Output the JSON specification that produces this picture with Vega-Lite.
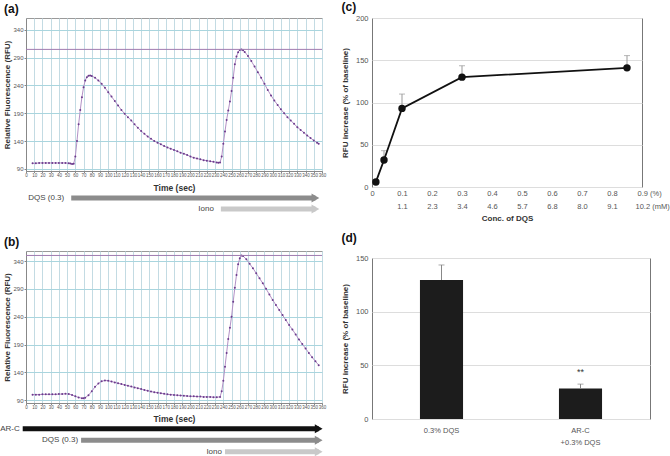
{
  "$schema": "https://vega.github.io/schema/vega-lite/v6.json",
  "padding": {"left": 0, "top": 0, "right": 0, "bottom": 0},
  "background": "white",
  "config": {
    "font": "Liberation Sans",
    "view": {"stroke": "#9a9a9a", "strokeWidth": 1},
    "axis": {"domainColor": "#888", "tickColor": "#888", "labelColor": "#555", "titleColor": "#333", "titleFontWeight": "bold", "labelOverlap": false, "labelSeparation": 0},
    "title": {"font": "Liberation Sans", "fontSize": 12, "fontWeight": "bold", "color": "#111", "anchor": "start", "frame": "bounds"}
  },
  "datasets": {
    "tsA": [
      {"t":8,"rfu":100},{"t":12,"rfu":100},{"t":16,"rfu":100.5},{"t":20,"rfu":100.5},{"t":24,"rfu":100.5},{"t":28,"rfu":100.5},{"t":32,"rfu":100.5},{"t":36,"rfu":100.5},{"t":40,"rfu":100.5},{"t":44,"rfu":100.5},{"t":48,"rfu":100.5},{"t":52,"rfu":100},{"t":54,"rfu":99.5},{"t":56,"rfu":98.5},{"t":58,"rfu":99},
      {"t":60,"rfu":112},{"t":62,"rfu":140},{"t":64,"rfu":170},{"t":66,"rfu":196},{"t":68,"rfu":219},{"t":70,"rfu":237},{"t":72,"rfu":249},{"t":74,"rfu":255},{"t":76,"rfu":257.5},{"t":78,"rfu":258},{"t":80,"rfu":257},
      {"t":84,"rfu":254},{"t":88,"rfu":249},{"t":92,"rfu":243},{"t":96,"rfu":236},{"t":100,"rfu":228},{"t":104,"rfu":220},{"t":108,"rfu":212},{"t":112,"rfu":204},{"t":116,"rfu":196},{"t":120,"rfu":189},{"t":124,"rfu":183},{"t":128,"rfu":177},{"t":132,"rfu":170},{"t":136,"rfu":164},{"t":140,"rfu":158},{"t":144,"rfu":153},{"t":148,"rfu":148},{"t":152,"rfu":144},{"t":156,"rfu":140},{"t":160,"rfu":137},{"t":164,"rfu":134},{"t":168,"rfu":131},{"t":172,"rfu":128.5},{"t":176,"rfu":126},{"t":180,"rfu":124},{"t":184,"rfu":121.5},{"t":188,"rfu":119},{"t":192,"rfu":117},{"t":196,"rfu":115},{"t":200,"rfu":112},{"t":204,"rfu":110},{"t":208,"rfu":108.5},{"t":212,"rfu":107},{"t":216,"rfu":105.5},{"t":220,"rfu":104.5},{"t":224,"rfu":103.5},{"t":228,"rfu":102.5},{"t":232,"rfu":101.5},{"t":234,"rfu":101},{"t":236,"rfu":101.5},
      {"t":238,"rfu":112},{"t":240,"rfu":135},{"t":242,"rfu":157},{"t":244,"rfu":178},{"t":246,"rfu":195},{"t":248,"rfu":211},{"t":250,"rfu":230},{"t":252,"rfu":254},{"t":254,"rfu":278},{"t":256,"rfu":292},{"t":258,"rfu":300},{"t":260,"rfu":304},{"t":262,"rfu":305},{"t":264,"rfu":303.5},{"t":266,"rfu":300.5},
      {"t":270,"rfu":293},{"t":274,"rfu":284},{"t":278,"rfu":274},{"t":282,"rfu":264},{"t":286,"rfu":254},{"t":290,"rfu":243},{"t":294,"rfu":232},{"t":298,"rfu":222},{"t":302,"rfu":213},{"t":306,"rfu":205},{"t":310,"rfu":197},{"t":314,"rfu":190},{"t":318,"rfu":183},{"t":322,"rfu":177},{"t":326,"rfu":171},{"t":330,"rfu":165},{"t":334,"rfu":160},{"t":338,"rfu":155},{"t":342,"rfu":150},{"t":346,"rfu":145.5},{"t":350,"rfu":141},{"t":354,"rfu":137},{"t":356,"rfu":135}
    ],
    "tsB": [
      {"t":8,"rfu":100},{"t":12,"rfu":100},{"t":16,"rfu":100},{"t":20,"rfu":100.5},{"t":24,"rfu":100.5},{"t":28,"rfu":100.5},{"t":32,"rfu":100.5},{"t":36,"rfu":100.5},{"t":40,"rfu":101},{"t":44,"rfu":101},{"t":48,"rfu":101.5},{"t":52,"rfu":101},{"t":56,"rfu":99.5},{"t":60,"rfu":97},{"t":64,"rfu":95},{"t":68,"rfu":93.5},{"t":70,"rfu":93.5},{"t":72,"rfu":94.5},{"t":76,"rfu":99},{"t":80,"rfu":106},{"t":84,"rfu":114},{"t":88,"rfu":120},{"t":92,"rfu":124},{"t":96,"rfu":125.5},{"t":100,"rfu":125},{"t":104,"rfu":123.5},{"t":108,"rfu":122},{"t":112,"rfu":120.5},{"t":116,"rfu":119},{"t":120,"rfu":117.5},{"t":124,"rfu":116},{"t":128,"rfu":114.5},{"t":132,"rfu":113},{"t":136,"rfu":111.5},{"t":140,"rfu":110},{"t":144,"rfu":108.5},{"t":148,"rfu":107},{"t":152,"rfu":105.5},{"t":156,"rfu":104.5},{"t":160,"rfu":103.5},{"t":164,"rfu":102.5},{"t":168,"rfu":101.5},{"t":172,"rfu":100.5},{"t":176,"rfu":100},{"t":180,"rfu":99.5},{"t":184,"rfu":99},{"t":188,"rfu":98.5},{"t":192,"rfu":98},{"t":196,"rfu":97.5},{"t":200,"rfu":97},{"t":204,"rfu":97},{"t":208,"rfu":96.5},{"t":212,"rfu":96.5},{"t":216,"rfu":96},{"t":220,"rfu":96},{"t":224,"rfu":96},{"t":228,"rfu":95.5},{"t":232,"rfu":95.5},{"t":236,"rfu":96},
      {"t":238,"rfu":106},{"t":240,"rfu":125},{"t":242,"rfu":150},{"t":244,"rfu":175},{"t":246,"rfu":200},{"t":248,"rfu":220},{"t":250,"rfu":240},{"t":252,"rfu":267},{"t":254,"rfu":292},{"t":256,"rfu":315},{"t":258,"rfu":334},{"t":260,"rfu":345},{"t":262,"rfu":350},{"t":264,"rfu":349},
      {"t":268,"rfu":343},{"t":272,"rfu":335},{"t":276,"rfu":327},{"t":280,"rfu":318},{"t":284,"rfu":309},{"t":288,"rfu":300},{"t":292,"rfu":290},{"t":296,"rfu":280},{"t":300,"rfu":270},{"t":304,"rfu":261},{"t":308,"rfu":252},{"t":312,"rfu":243},{"t":316,"rfu":234},{"t":320,"rfu":225},{"t":324,"rfu":217},{"t":328,"rfu":208},{"t":332,"rfu":199},{"t":336,"rfu":191},{"t":340,"rfu":183},{"t":344,"rfu":175},{"t":348,"rfu":167},{"t":352,"rfu":160},{"t":356,"rfu":153}
    ],
    "peakA": [{"peak": 305}],
    "peakB": [{"peak": 350}],
    "arrowsA": [
      {"agent": "DQS (0.3)", "start": 55, "end": 352},
      {"agent": "Iono", "start": 237, "end": 352}
    ],
    "arrowsB": [
      {"agent": "AR-C", "start": -4, "end": 356},
      {"agent": "DQS (0.3)", "start": 67, "end": 356},
      {"agent": "Iono", "start": 242, "end": 356}
    ],
    "doseC": [
      {"pct": 0.013, "mean": 6, "upper": 8},
      {"pct": 0.04, "mean": 32, "upper": 43},
      {"pct": 0.1, "mean": 93, "upper": 110},
      {"pct": 0.3, "mean": 130, "upper": 143.5},
      {"pct": 0.85, "mean": 141, "upper": 155.5}
    ],
    "barD": [
      {"group": "0.3% DQS", "mean": 129.5, "upper": 143.5, "sig": ""},
      {"group": "AR-C|+0.3% DQS", "mean": 28.5, "upper": 32.5, "sig": "**"}
    ]
  },
  "spacing": 13,
  "hconcat": [
    {
      "bounds": "flush",
      "spacing": 20,
      "vconcat": [
        {
          "width": 296, "height": 153,
          "title": {"text": "(a)", "offset": 2},
          "data": {"name": "tsA"},
          "layer": [
            {
              "mark": {"type": "line", "color": "#b391c6", "strokeWidth": 1, "point": {"filled": true, "size": 4, "color": "#6b3a8c"}},
              "encoding": {
                "x": {"field": "t", "type": "quantitative", "scale": {"domain": [0, 360], "nice": false},
                  "axis": {"tickCount": 36, "labelFontSize": 4.5, "labelPadding": 0, "tickSize": 1.5, "labelOverlap": false, "labelFlush": false, "gridColor": "#c3dbe3", "title": "Time (sec)", "titleFontSize": 8.5, "titlePadding": 6}},
                "y": {"field": "rfu", "type": "quantitative", "scale": {"domain": [86, 361.5], "nice": false, "zero": false},
                  "axis": {"values": [90, 140, 190, 240, 290, 340], "labelOverlap": false, "labelFontSize": 6, "tickSize": 2, "labelPadding": 1, "gridColor": "#a9d5de", "title": "Relative Fluorescence  (RFU)", "titleFontSize": 8, "titlePadding": 1}}
              }
            },
            {
              "data": {"name": "peakA"},
              "mark": {"type": "rule", "color": "#a07cb0", "strokeWidth": 1},
              "encoding": {"y": {"field": "peak", "type": "quantitative",
                "axis": {"values": [90, 140, 190, 240, 290, 340], "labelOverlap": false, "labelFontSize": 6, "tickSize": 2, "labelPadding": 1, "gridColor": "#a9d5de", "title": "Relative Fluorescence  (RFU)", "titleFontSize": 8, "titlePadding": 1}}}
            }
          ]
        },
        {
          "width": 296, "height": 40,
          "view": {"stroke": null},
          "data": {"name": "arrowsA"},
          "encoding": {
            "y": {"field": "agent", "type": "nominal", "scale": {"domain": ["DQS (0.3)", "Iono"], "paddingInner": 0, "paddingOuter": 0.818, "align": 0.083}, "axis": null}
          },
          "layer": [
            {"mark": {"type": "rule", "strokeWidth": 5},
             "encoding": {"x": {"field": "start", "type": "quantitative", "scale": {"domain": [0, 360], "nice": false}, "axis": null}, "x2": {"field": "end"},
               "color": {"field": "agent", "type": "nominal", "scale": {"domain": ["AR-C", "DQS (0.3)", "Iono"], "range": ["#111111", "#8c8c8c", "#c9c9c9"]}, "legend": null}}},
            {"mark": {"type": "point", "shape": "triangle-right", "filled": true, "size": 80, "opacity": 1},
             "encoding": {"x": {"field": "end", "type": "quantitative"},
               "color": {"field": "agent", "type": "nominal", "legend": null}}},
            {"mark": {"type": "text", "align": "right", "baseline": "middle", "dx": -7, "fontSize": 8, "color": "#444"},
             "encoding": {"x": {"field": "start", "type": "quantitative"}, "text": {"field": "agent"}}}
          ]
        },
        {
          "width": 296, "height": 152,
          "title": {"text": "(b)", "offset": 2},
          "data": {"name": "tsB"},
          "layer": [
            {
              "mark": {"type": "line", "color": "#b391c6", "strokeWidth": 1, "point": {"filled": true, "size": 4, "color": "#6b3a8c"}},
              "encoding": {
                "x": {"field": "t", "type": "quantitative", "scale": {"domain": [0, 360], "nice": false},
                  "axis": {"tickCount": 36, "labelFontSize": 4.5, "labelPadding": 0, "tickSize": 1.5, "labelOverlap": false, "labelFlush": false, "gridColor": "#c3dbe3", "title": "Time (sec)", "titleFontSize": 8.5, "titlePadding": 5}},
                "y": {"field": "rfu", "type": "quantitative", "scale": {"domain": [85, 358], "nice": false, "zero": false},
                  "axis": {"values": [90, 140, 190, 240, 290, 340], "labelOverlap": false, "labelFontSize": 6, "tickSize": 2, "labelPadding": 1, "gridColor": "#a9d5de", "title": "Relative Fluorescence  (RFU)", "titleFontSize": 8, "titlePadding": 1}}
              }
            },
            {
              "data": {"name": "peakB"},
              "mark": {"type": "rule", "color": "#a07cb0", "strokeWidth": 1},
              "encoding": {"y": {"field": "peak", "type": "quantitative",
                "axis": {"values": [90, 140, 190, 240, 290, 340], "labelOverlap": false, "labelFontSize": 6, "tickSize": 2, "labelPadding": 1, "gridColor": "#a9d5de", "title": "Relative Fluorescence  (RFU)", "titleFontSize": 8, "titlePadding": 1}}}
            }
          ]
        },
        {
          "width": 296, "height": 34.5,
          "view": {"stroke": null},
          "data": {"name": "arrowsB"},
          "encoding": {
            "y": {"field": "agent", "type": "nominal", "scale": {"domain": ["AR-C", "DQS (0.3)", "Iono"], "paddingInner": 0, "paddingOuter": 0}, "axis": null}
          },
          "layer": [
            {"mark": {"type": "rule", "strokeWidth": 5},
             "encoding": {"x": {"field": "start", "type": "quantitative", "scale": {"domain": [0, 360], "nice": false}, "axis": null}, "x2": {"field": "end"},
               "color": {"field": "agent", "type": "nominal", "scale": {"domain": ["AR-C", "DQS (0.3)", "Iono"], "range": ["#111111", "#8c8c8c", "#c9c9c9"]}, "legend": null}}},
            {"mark": {"type": "point", "shape": "triangle-right", "filled": true, "size": 80, "opacity": 1},
             "encoding": {"x": {"field": "end", "type": "quantitative"},
               "color": {"field": "agent", "type": "nominal", "legend": null}}},
            {"mark": {"type": "text", "align": "right", "baseline": "middle", "dx": -3, "fontSize": 8, "color": "#444"},
             "encoding": {"x": {"field": "start", "type": "quantitative"}, "text": {"field": "agent"}}}
          ]
        }
      ]
    },
    {
      "bounds": "flush",
      "spacing": 71,
      "vconcat": [
        {
          "width": 270, "height": 169,
          "title": {"text": "(c)", "offset": 0},
          "data": {"name": "doseC"},
          "view": {"stroke": "#777"},
          "resolve": {"axis": {"x": "independent"}},
          "layer": [
            {"mark": {"type": "rule", "color": "#999", "strokeWidth": 1},
             "encoding": {
               "x": {"field": "pct", "type": "quantitative", "scale": {"domain": [0, 0.9], "nice": false},
                 "axis": {"values": [0, 0.1, 0.2, 0.3, 0.4, 0.5, 0.6, 0.7, 0.8, 0.9], "grid": false, "ticks": false, "domain": false, "labelFontSize": 7.5, "labelPadding": 2, "labelFlush": false, "labelOverlap": false,
                   "labelExpr": "datum.value == 0.9 ? '0.9  (%)' : (datum.value == 0 ? '0' : datum.label)",
                   "labelAlign": {"condition": {"test": "datum.value == 0.9", "value": "left"}, "value": "center"},
                   "labelOffset": {"condition": {"test": "datum.value == 0.9", "value": -5}, "value": 0},
                   "title": null, "orient": "bottom"}},
               "y": {"field": "mean", "type": "quantitative", "scale": {"domain": [0, 200], "nice": false},
                 "axis": {"values": [0, 50, 100, 150, 200], "labelOverlap": false, "labelFontSize": 7.5, "ticks": false, "labelPadding": 4, "domain": false, "gridColor": "#dddddd", "title": "RFU increase (% of baseline)", "titleFontSize": 8, "titlePadding": 6}},
               "y2": {"field": "upper"}
             }},
            {"mark": {"type": "tick", "orient": "horizontal", "size": 6, "thickness": 1, "color": "#999"},
             "encoding": {
               "x": {"field": "pct", "type": "quantitative",
                 "axis": {"values": [0.1, 0.2, 0.3, 0.4, 0.5, 0.6, 0.7, 0.8, 0.9], "grid": false, "ticks": false, "domain": false, "labelFontSize": 7.5, "labelPadding": 2, "offset": 13, "labelFlush": false, "labelOverlap": false,
                   "labelExpr": "['','1.1','2.3','3.4','4.6','5.7','6.8','8.0','9.1','10.2 (mM)'][round(datum.value*10)]",
                   "labelAlign": {"condition": {"test": "datum.value == 0.9", "value": "left"}, "value": "center"},
                   "labelOffset": {"condition": {"test": "datum.value == 0.9", "value": -7}, "value": 0},
                   "title": "Conc. of DQS", "titleFontSize": 8, "titlePadding": 5, "orient": "bottom"}},
               "y": {"field": "upper", "type": "quantitative"}
             }},
            {"mark": {"type": "line", "color": "#111", "strokeWidth": 1.8},
             "encoding": {"x": {"field": "pct", "type": "quantitative", "axis": null}, "y": {"field": "mean", "type": "quantitative"}}},
            {"mark": {"type": "circle", "size": 55, "color": "#111", "opacity": 1},
             "encoding": {"x": {"field": "pct", "type": "quantitative", "axis": null}, "y": {"field": "mean", "type": "quantitative"}}}
          ]
        },
        {
          "width": 278, "height": 161,
          "title": {"text": "(d)", "offset": 4},
          "data": {"name": "barD"},
          "view": {"stroke": "#777"},
          "encoding": {
            "x": {"field": "group", "type": "nominal", "sort": null, "scale": {"paddingInner": 0.69, "paddingOuter": 0.345},
              "axis": {"labelAngle": 0, "labelExpr": "split(datum.label, '|')", "labelBaseline": "top", "labelLineHeight": 12, "labelFontSize": 7.5, "labelPadding": 7, "ticks": false, "domain": false, "title": null}}
          },
          "layer": [
            {"mark": {"type": "bar", "color": "#1c1c1c"},
             "encoding": {"y": {"field": "mean", "type": "quantitative", "scale": {"domain": [0, 150], "nice": false},
               "axis": {"values": [0, 50, 100, 150], "labelOverlap": false, "labelFontSize": 7.5, "ticks": false, "labelPadding": 4, "domain": false, "gridColor": "#dddddd", "title": "RFU increase (% of baseline)", "titleFontSize": 8, "titlePadding": 6}}}},
            {"mark": {"type": "rule", "color": "#888", "strokeWidth": 1},
             "encoding": {"y": {"field": "mean", "type": "quantitative"}, "y2": {"field": "upper"}}},
            {"mark": {"type": "tick", "orient": "horizontal", "size": 6, "thickness": 1, "color": "#888"},
             "encoding": {"y": {"field": "upper", "type": "quantitative"}}},
            {"mark": {"type": "text", "dy": -12, "fontSize": 9, "color": "#333"},
             "encoding": {"y": {"field": "upper", "type": "quantitative"}, "text": {"field": "sig"}}}
          ]
        }
      ]
    }
  ]
}
